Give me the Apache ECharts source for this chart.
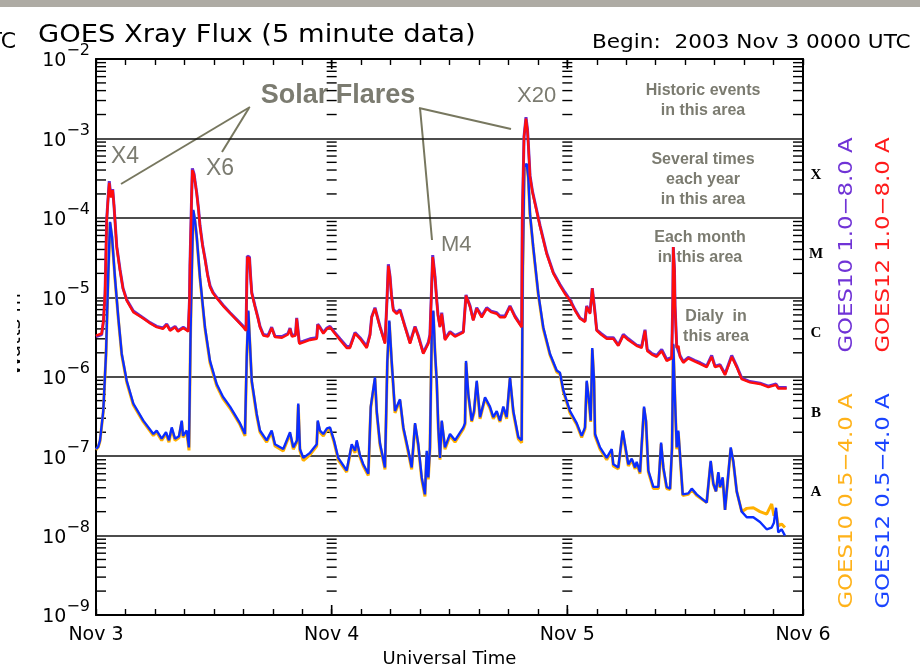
<!DOCTYPE html>
<html><head><meta charset="utf-8">
<script src="https://cdn.jsdelivr.net/npm/echarts@6.0.0/dist/echarts.min.js"></script>
<style>html,body{margin:0;padding:0;background:#fff}#c{width:920px;height:670px}</style>
</head><body><div id="c"></div>
<script>
// ---- data (hours since 2003 Nov 3 00:00 UTC, flux W/m^2) ----
const g12LongHours = [0.00,0.58,0.76,0.92,1.09,1.22,1.35,1.52,1.70,1.83,2.11,2.44,2.75,3.13,3.80,4.82,5.50,6.18,6.82,7.20,7.54,8.05,8.35,8.89,9.40,9.52,9.57,9.73,9.81,9.98,10.26,10.44,10.59,10.85,11.10,11.36,11.61,11.92,12.29,12.93,13.65,14.36,15.00,15.28,15.36,15.41,15.63,15.73,15.86,16.19,16.50,16.70,17.04,17.52,17.89,18.23,18.94,19.55,19.76,19.96,20.32,20.44,20.57,20.70,21.11,21.79,22.48,22.58,22.81,23.15,23.52,23.83,24.24,24.85,25.53,25.87,26.38,26.89,27.57,27.90,28.08,28.41,28.62,28.92,29.43,29.63,29.77,29.94,30.09,30.28,30.62,30.96,31.47,31.98,32.49,32.82,33.33,33.84,34.01,34.17,34.29,34.52,34.70,34.83,35.03,35.21,35.54,36.05,36.56,37.41,37.68,38.09,38.42,38.77,39.28,39.79,40.23,40.81,41.14,41.65,42.16,42.67,43.35,43.41,43.59,43.79,43.94,44.02,44.20,44.45,44.71,45.22,45.90,46.57,47.25,47.76,48.27,48.78,49.29,49.80,49.97,50.31,50.54,50.82,50.99,51.43,52.01,52.68,53.19,53.70,54.21,55.06,55.57,55.81,55.91,56.14,56.62,57.10,57.61,58.12,58.63,58.74,58.79,58.91,58.97,59.14,59.32,59.47,59.81,60.32,61.01,61.52,62.19,62.70,63.04,63.55,64.06,64.74,65.25,65.76,66.60,67.62,68.47,69.25,69.48,70.34];
const g12LongFlux = [3.3e-6,3.5e-6,5.1e-6,1.12e-5,9.3e-5,1.66e-4,2.75e-4,1.8e-4,2.24e-4,1.45e-4,4.3e-5,2.2e-5,1.29e-5,9.1e-6,6.5e-6,5.4e-6,4.7e-6,4.2e-6,4.0e-6,4.5e-6,3.8e-6,4.2e-6,3.7e-6,4.1e-6,3.7e-6,9.1e-6,2.5e-5,1.66e-4,4.0e-4,3.5e-4,2.0e-4,1.26e-4,7.8e-5,4.5e-5,3.0e-5,1.9e-5,1.35e-5,1.12e-5,9.8e-6,7.8e-6,6.3e-6,5.1e-6,4.2e-6,3.8e-6,1.6e-5,3.2e-5,3.1e-5,1.9e-5,1.12e-5,7.6e-6,5.4e-6,4.2e-6,3.3e-6,3.2e-6,4.1e-6,3.16e-6,3.1e-6,3.4e-6,4.0e-6,3.2e-6,3.3e-6,5.4e-6,3.8e-6,2.6e-6,2.7e-6,2.9e-6,3.0e-6,4.5e-6,4.1e-6,3.5e-6,4.0e-6,4.2e-6,3.6e-6,2.9e-6,2.3e-6,2.3e-6,3.5e-6,3.0e-6,2.3e-6,3.3e-6,5.6e-6,7.2e-6,5.8e-6,4.2e-6,2.6e-6,9.1e-6,2.5e-5,1.8e-5,1.05e-5,6.8e-6,6.2e-6,6.8e-6,4.2e-6,2.6e-6,4.2e-6,3.2e-6,1.95e-6,2.6e-6,3.3e-6,1.23e-5,3.2e-5,1.8e-5,9.1e-6,5.9e-6,4.2e-6,6.2e-6,2.9e-6,3.6e-6,3.2e-6,3.6e-6,1.05e-5,7.6e-6,5.1e-6,7.2e-6,5.6e-6,7.2e-6,6.5e-6,6.2e-6,5.6e-6,5.6e-6,7.6e-6,5.6e-6,4.2e-6,9.3e-5,1.05e-3,1.78e-3,1.26e-3,8.7e-4,3.3e-4,2.1e-4,1.5e-4,7.8e-5,3.5e-5,2.0e-5,1.4e-5,1.1e-5,9.1e-6,6.8e-6,5.4e-6,4.9e-6,7.6e-6,6.2e-6,1.29e-5,6.2e-6,3.8e-6,3.4e-6,3.0e-6,3.0e-6,2.45e-6,3.3e-6,2.9e-6,2.45e-6,2.3e-6,3.3e-6,3.8e-6,2.1e-6,1.9e-6,1.78e-6,2.1e-6,1.58e-6,1.7e-6,9.1e-6,4.3e-5,2.2e-5,7.6e-6,2.3e-6,2.45e-6,1.78e-6,1.5e-6,1.7e-6,1.55e-6,1.45e-6,1.32e-6,1.78e-6,1.32e-6,1.38e-6,1.05e-6,1.78e-6,1.32e-6,9.3e-7,8.5e-7,8.1e-7,7.4e-7,7.9e-7,7.1e-7,7.1e-7];
const g10LongFlux = [3.2e-6,3.4e-6,5.0e-6,1.1e-5,9.5e-5,1.7e-4,2.9e-4,1.85e-4,2.3e-4,1.45e-4,4.4e-5,2.25e-5,1.3e-5,9.3e-6,6.7e-6,5.5e-6,4.8e-6,4.3e-6,4.1e-6,4.6e-6,3.9e-6,4.3e-6,3.8e-6,4.2e-6,3.8e-6,9.0e-6,2.5e-5,1.7e-4,4.2e-4,3.6e-4,2.05e-4,1.3e-4,8.0e-5,4.6e-5,3.1e-5,1.95e-5,1.4e-5,1.15e-5,1.0e-5,8.0e-6,6.4e-6,5.2e-6,4.3e-6,3.9e-6,1.6e-5,3.3e-5,3.2e-5,1.95e-5,1.15e-5,7.8e-6,5.5e-6,4.3e-6,3.4e-6,3.3e-6,4.2e-6,3.2e-6,3.2e-6,3.5e-6,4.1e-6,3.3e-6,3.4e-6,5.5e-6,3.9e-6,2.7e-6,2.8e-6,3.0e-6,3.1e-6,4.6e-6,4.2e-6,3.6e-6,4.1e-6,4.3e-6,3.7e-6,3.0e-6,2.4e-6,2.4e-6,3.6e-6,3.1e-6,2.4e-6,3.4e-6,5.7e-6,7.4e-6,5.9e-6,4.3e-6,2.7e-6,9.0e-6,2.6e-5,1.85e-5,1.07e-5,7.0e-6,6.4e-6,7.0e-6,4.3e-6,2.7e-6,4.3e-6,3.3e-6,2.0e-6,2.7e-6,3.4e-6,1.25e-5,3.4e-5,1.85e-5,9.3e-6,6.0e-6,4.3e-6,6.4e-6,3.0e-6,3.7e-6,3.3e-6,3.7e-6,1.07e-5,7.8e-6,5.2e-6,7.4e-6,5.8e-6,7.4e-6,6.7e-6,6.4e-6,5.8e-6,5.8e-6,7.8e-6,5.8e-6,4.3e-6,9.0e-5,1.05e-3,1.85e-3,1.3e-3,9.0e-4,3.4e-4,2.15e-4,1.55e-4,8.0e-5,3.6e-5,2.05e-5,1.45e-5,1.15e-5,9.3e-6,7.0e-6,5.5e-6,5.0e-6,7.8e-6,6.4e-6,1.3e-5,6.4e-6,3.9e-6,3.5e-6,3.1e-6,3.1e-6,2.5e-6,3.4e-6,3.0e-6,2.5e-6,2.4e-6,3.4e-6,3.9e-6,2.2e-6,1.95e-6,1.85e-6,2.2e-6,1.65e-6,1.75e-6,9.0e-6,4.3e-5,2.2e-5,7.8e-6,2.4e-6,2.5e-6,1.85e-6,1.55e-6,1.75e-6,1.6e-6,1.5e-6,1.36e-6,1.85e-6,1.36e-6,1.42e-6,1.08e-6,1.85e-6,1.36e-6,9.6e-7,8.7e-7,8.3e-7,7.6e-7,8.1e-7,7.3e-7,7.3e-7];

const g12ShortHours = [0.00,0.23,0.41,0.74,1.02,1.25,1.43,1.63,1.93,2.27,2.62,3.13,3.80,4.82,5.84,6.18,6.69,7.13,7.43,7.71,8.05,8.45,8.73,8.86,9.06,9.24,9.47,9.64,9.78,9.91,10.08,10.26,10.59,11.10,11.61,12.29,12.93,13.65,14.66,15.17,15.35,15.51,15.68,15.86,16.37,16.70,17.38,17.89,18.23,19.07,19.76,20.09,20.47,20.60,20.77,21.11,21.79,22.48,22.58,22.81,23.15,23.52,23.83,24.24,24.67,25.53,26.04,26.38,26.55,26.89,27.22,27.73,27.98,28.18,28.41,28.59,28.92,29.43,29.67,29.87,30.11,30.45,30.70,30.96,31.30,31.81,32.15,32.49,32.82,33.17,33.50,33.68,33.84,34.01,34.19,34.35,34.52,34.70,34.86,35.03,35.21,35.54,36.05,36.56,37.41,37.58,37.68,37.92,38.26,38.50,38.77,39.11,39.62,40.12,40.46,40.81,41.14,41.48,41.82,42.16,42.50,43.01,43.35,43.45,43.62,43.86,44.02,44.20,44.53,45.04,45.55,46.23,46.92,47.25,47.59,48.27,48.95,49.46,49.80,49.97,50.24,50.38,50.54,50.72,50.82,51.33,52.01,52.52,52.68,53.19,53.64,53.87,54.21,54.56,54.90,55.06,55.40,55.81,56.01,56.25,56.76,57.27,57.55,57.78,58.12,58.46,58.66,58.79,58.97,59.14,59.30,59.47,59.75,60.32,60.67,61.17,62.19,62.60,62.87,63.14,63.38,63.55,63.82,64.06,64.64,64.90,65.25,65.76,66.27,66.94,67.62,68.30,68.81,69.04,69.25,69.48,69.82,70.16];
const g12ShortFlux = [1.23e-7,1.32e-7,1.58e-7,3.7e-7,1.95e-6,2.0e-5,8.9e-5,5.8e-5,1.78e-5,5.6e-6,1.95e-6,8.9e-7,4.6e-7,2.8e-7,1.9e-7,2.1e-7,1.66e-7,2.0e-7,1.58e-7,2.3e-7,1.66e-7,1.78e-7,2.8e-7,1.8e-7,1.74e-7,2.1e-7,1.29e-7,4.2e-6,3.0e-5,1.26e-4,9.3e-5,5.8e-5,1.78e-5,4.2e-6,1.58e-6,8.1e-7,5.6e-7,4.2e-7,2.6e-7,1.9e-7,1.78e-6,6.8e-6,2.6e-6,8.9e-7,3.4e-7,2.1e-7,1.58e-7,2.1e-7,1.41e-7,1.23e-7,2.0e-7,1.29e-7,1.58e-7,4.6e-7,1.23e-7,9.5e-8,1.1e-7,1.41e-7,2.8e-7,2.1e-7,1.9e-7,2.24e-7,2.3e-7,1.58e-7,9.5e-8,6.6e-8,1.41e-7,1.17e-7,1.58e-7,1.02e-7,7.9e-8,6.0e-8,4.2e-7,4.2e-7,9.8e-7,3.7e-7,1.45e-7,7.2e-8,1.58e-6,5.1e-6,1.58e-6,3.7e-7,4.4e-7,5.2e-7,2.3e-7,1.17e-7,7.2e-8,2.6e-7,1.41e-7,5.4e-8,3.3e-8,1.17e-7,5.4e-8,1.29e-7,3.5e-6,6.8e-6,2.1e-6,8.9e-7,2.3e-7,9.5e-8,2.8e-7,1.29e-7,1.9e-7,1.58e-7,2.3e-7,2.6e-7,1.58e-6,6.0e-7,2.8e-7,3.7e-7,8.9e-7,3.1e-7,5.5e-7,4.2e-7,3.1e-7,3.7e-7,2.8e-7,4.2e-7,3.1e-7,9.8e-7,3.7e-7,1.74e-7,1.58e-7,1.78e-5,4.4e-4,4.8e-4,3.3e-4,1.12e-4,4.3e-5,1.12e-5,4.2e-6,1.95e-6,1.2e-6,1.12e-6,6.8e-7,3.7e-7,2.6e-7,1.8e-7,2.3e-7,8.9e-7,4.6e-7,2.8e-7,2.3e-6,8.9e-7,1.9e-7,1.29e-7,9.5e-8,1.23e-7,7.9e-8,7.2e-8,2.1e-7,1.41e-7,7.9e-8,9.3e-8,7.2e-8,8.5e-8,6.3e-8,4.2e-7,2.8e-7,6.6e-8,4.1e-8,4.1e-8,1.48e-7,7.2e-8,4.1e-8,3.9e-8,1.29e-7,2.6e-6,5.0e-7,1.29e-7,2.1e-7,1.07e-7,3.3e-8,3.4e-8,3.9e-8,3.3e-8,2.6e-8,8.7e-8,4.5e-8,3.6e-8,6.3e-8,4.1e-8,5.4e-8,2.1e-8,1.29e-7,8.7e-8,3.6e-8,2.0e-8,1.7e-8,1.7e-8,1.48e-8,1.2e-8,1.26e-8,1.45e-8,2.24e-8,1.1e-8,1.2e-8,1.0e-8];
const g10ShortFlux = [1.2e-7,1.3e-7,1.55e-7,3.6e-7,1.9e-6,1.95e-5,8.7e-5,5.6e-5,1.72e-5,5.4e-6,1.88e-6,8.5e-7,4.4e-7,2.7e-7,1.82e-7,2.0e-7,1.58e-7,1.92e-7,1.5e-7,2.2e-7,1.58e-7,1.7e-7,2.7e-7,1.72e-7,1.66e-7,2.0e-7,1.18e-7,4.0e-6,2.9e-5,1.22e-4,9.0e-5,5.6e-5,1.72e-5,4.0e-6,1.5e-6,7.7e-7,5.3e-7,4.0e-7,2.5e-7,1.8e-7,1.7e-6,6.6e-6,2.5e-6,8.5e-7,3.2e-7,2.0e-7,1.5e-7,2.0e-7,1.34e-7,1.16e-7,1.9e-7,1.22e-7,1.5e-7,4.4e-7,1.16e-7,8.8e-8,1.04e-7,1.34e-7,2.7e-7,2.0e-7,1.8e-7,2.14e-7,2.2e-7,1.5e-7,9.0e-8,6.3e-8,1.34e-7,1.1e-7,1.5e-7,9.7e-8,7.5e-8,5.7e-8,4.0e-7,4.0e-7,9.4e-7,3.5e-7,1.38e-7,6.8e-8,1.5e-6,4.9e-6,1.5e-6,3.5e-7,4.2e-7,5.0e-7,2.2e-7,1.1e-7,6.8e-8,2.5e-7,1.34e-7,5.1e-8,3.1e-8,1.1e-7,5.1e-8,1.22e-7,3.4e-6,6.6e-6,2.0e-6,8.5e-7,2.2e-7,9.0e-8,2.7e-7,1.22e-7,1.8e-7,1.5e-7,2.2e-7,2.5e-7,1.5e-6,5.7e-7,2.7e-7,3.5e-7,8.5e-7,2.95e-7,5.3e-7,4.0e-7,2.95e-7,3.5e-7,2.7e-7,4.0e-7,2.95e-7,9.4e-7,3.5e-7,1.64e-7,1.48e-7,1.7e-5,4.3e-4,4.7e-4,3.2e-4,1.08e-4,4.1e-5,1.08e-5,4.0e-6,1.88e-6,1.15e-6,1.08e-6,6.5e-7,3.5e-7,2.5e-7,1.72e-7,2.2e-7,8.5e-7,4.4e-7,2.7e-7,2.2e-6,8.5e-7,1.8e-7,1.22e-7,9.0e-8,1.16e-7,7.5e-8,6.9e-8,2.0e-7,1.34e-7,7.5e-8,8.9e-8,6.9e-8,8.1e-8,6.0e-8,4.0e-7,2.7e-7,6.3e-8,3.9e-8,3.9e-8,1.42e-7,6.9e-8,3.9e-8,3.8e-8,1.22e-7,2.5e-6,4.8e-7,1.22e-7,2.0e-7,1.02e-7,3.2e-8,3.3e-8,3.8e-8,3.2e-8,2.6e-8,8.4e-8,4.4e-8,3.6e-8,6.1e-8,4.0e-8,5.2e-8,2.1e-8,1.24e-7,8.4e-8,3.6e-8,2.0e-8,2.2e-8,2.24e-8,2.0e-8,1.86e-8,2.5e-8,1.78e-8,2.0e-8,1.32e-8,1.4e-8,1.26e-8];

const dayLabels = ['Nov 3', 'Nov 4', 'Nov 5', 'Nov 6'];
const classLetters = ['A', 'B', 'C', 'M', 'X'];
const classLevels = [3.5e-8, 3.5e-7, 3.5e-6, 3.5e-5, 3.5e-4];
const legendTexts = ['GOES10 1.0\u22128.0 A', 'GOES12 1.0\u22128.0 A', 'GOES10 0.5\u22124.0 A', 'GOES12 0.5\u22124.0 A'];

// ---- helpers ----
function zip(h, v) { const n = Math.min(h.length, v.length); const o = []; for (let i = 0; i < n; i++) o.push([h[i], v[i]]); return o; }
const minorTicks = [];
for (let e = -9; e < -2; e++) for (let m = 2; m <= 9; m++) minorTicks.push([0, m * Math.pow(10, e)]);

const BLACK = '#000';
const ANN = '#7b7b70';
const ANNLINE = '#77775f';
const FONT = '"DejaVu Sans", sans-serif';

function renderMinor(params, api) {
  const v = api.value(1);
  const pL = api.coord([0, v]), pR = api.coord([72, v]);
  const p1 = api.coord([24, v]), p2 = api.coord([48, v]);
  const st = { stroke: BLACK, lineWidth: 1.4 };
  return { type: 'group', children: [
    { type: 'line', shape: { x1: pL[0], y1: pL[1], x2: pL[0] + 10, y2: pL[1] }, style: st },
    { type: 'line', shape: { x1: pR[0] - 10, y1: pR[1], x2: pR[0], y2: pR[1] }, style: st },
    { type: 'line', shape: { x1: p1[0] - 5, y1: p1[1], x2: p1[0] + 5, y2: p1[1] }, style: st },
    { type: 'line', shape: { x1: p2[0] - 5, y1: p2[1], x2: p2[0] + 5, y2: p2[1] }, style: st }
  ]};
}
function renderDayTicks(params, api) {
  const h = api.value(0);
  const pT = api.coord([h, 1e-2]), pB = api.coord([h, 1e-9]);
  const st = { stroke: BLACK, lineWidth: 1.6 };
  return { type: 'group', children: [
    { type: 'line', shape: { x1: pT[0], y1: pT[1], x2: pT[0], y2: pT[1] + 10 }, style: st },
    { type: 'line', shape: { x1: pB[0], y1: pB[1], x2: pB[0], y2: pB[1] - 10 }, style: st }
  ]};
}
function renderLetters(params, api) {
  const p = api.coord([72, api.value(1)]);
  return { type: 'text', x: p[0] + 13, y: p[1], style: { text: classLetters[params.dataIndex], font: 'bold 15px "Liberation Serif", serif', fill: BLACK, align: 'center', verticalAlign: 'middle' } };
}

const chart = echarts.init(document.getElementById('c'));
const xCommon = {
  type: 'value', min: 0, max: 72, interval: 3,
  axisLine: { onZero: false, lineStyle: { color: BLACK, width: 2 } },
  axisTick: { inside: true, length: 6, lineStyle: { color: BLACK, width: 1.4 } },
  splitLine: { show: false }
};
const yCommon = {
  type: 'log', logBase: 10, min: 1e-9, max: 1e-2, splitNumber: 7,
  axisLine: { onZero: false, lineStyle: { color: BLACK, width: 2 } },
  axisTick: { show: false }
};

chart.setOption({
  animation: false,
  backgroundColor: '#fff',
  textStyle: { fontFamily: FONT },
  grid: { left: 96, right: 117, top: 59, bottom: 55, containLabel: false, outerBoundsMode: 'none' },
  xAxis: [
    Object.assign({}, xCommon, {
      position: 'bottom',
      name: 'Universal Time', nameLocation: 'middle', nameGap: 33,
      nameTextStyle: { fontSize: 18, color: BLACK, fontFamily: FONT },
      axisLabel: { margin: 11, fontSize: 19, color: BLACK, fontFamily: FONT, showMinLabel: true, showMaxLabel: true,
        formatter: v => (v % 24 === 0 ? dayLabels[v / 24] : '') }
    }),
    Object.assign({}, xCommon, { position: 'top', axisLabel: { show: false } })
  ],
  yAxis: [
    Object.assign({}, yCommon, {
      position: 'left',
      splitLine: { show: true, lineStyle: { color: '#111', width: 1.5 } },
      axisLabel: {
        margin: 6,
        formatter: v => { const e = Math.round(Math.log10(v)); return '{b|10}{s|\u2212' + (-e) + '}'; },
        rich: {
          b: { fontSize: 19, fontFamily: FONT, color: BLACK, verticalAlign: 'bottom', padding: [0, 0, 4, 0] },
          s: { fontSize: 16, fontFamily: FONT, color: BLACK, verticalAlign: 'top', padding: [0, 0, 16, 0] }
        }
      }
    }),
    Object.assign({}, yCommon, { position: 'right', axisLabel: { show: false }, splitLine: { show: false } })
  ],
  series: [
    { type: 'custom', name: 'minorTicks', data: minorTicks, renderItem: renderMinor, clip: false, silent: true, z: 1 },
    { type: 'custom', name: 'dayTicks', data: [[24, 1e-5], [48, 1e-5]], renderItem: renderDayTicks, clip: false, silent: true, z: 1 },
    { type: 'custom', name: 'classes', data: classLevels.map(v => [72, v]), renderItem: renderLetters, clip: false, silent: true, z: 1 },
    { type: 'line', name: legendTexts[2], data: zip(g12ShortHours, g10ShortFlux), showSymbol: false, symbol: 'none', lineStyle: { color: '#ffb000', width: 3 }, z: 2 },
    { type: 'line', name: legendTexts[3], data: zip(g12ShortHours, g12ShortFlux), showSymbol: false, symbol: 'none', lineStyle: { color: '#0b2dff', width: 2.4 }, z: 3 },
    { type: 'line', name: legendTexts[0], data: zip(g12LongHours, g10LongFlux), showSymbol: false, symbol: 'none', lineStyle: { color: '#6a2bd0', width: 3 }, z: 4 },
    { type: 'line', name: legendTexts[1], data: zip(g12LongHours, g12LongFlux), showSymbol: false, symbol: 'none', lineStyle: { color: '#ff0d0d', width: 2.4 }, z: 5 }
  ],
  graphic: [
    { type: 'rect', shape: { x: 0, y: 0, width: 920, height: 7 }, style: { fill: '#aeaba4' } },
    { type: 'text', x: 16, y: 42, style: { text: 'UTC', font: '22px ' + FONT, fill: BLACK, align: 'right', verticalAlign: 'middle' } },
    { type: 'text', x: 38, y: 36, scaleX: 1.14, style: { text: 'GOES Xray Flux (5 minute data)', font: '24px ' + FONT, fill: BLACK, align: 'left', verticalAlign: 'middle' } },
    { type: 'text', x: 592, y: 43, scaleX: 1.08, style: { text: 'Begin:  2003 Nov 3 0000 UTC', font: '20px ' + FONT, fill: BLACK, align: 'left', verticalAlign: 'middle' } },
    { type: 'text', x: 25, y: 325, rotation: Math.PI / 2, style: { text: 'Watts m\u207B\u00B2', font: '20px ' + FONT, fill: BLACK, align: 'center', verticalAlign: 'bottom' } },
    { type: 'rect', shape: { x: 0, y: 250, width: 17, height: 160 }, style: { fill: '#fff' } },
    { type: 'text', x: 846.5, y: 245, rotation: Math.PI / 2, scaleX: 1.14, style: { text: legendTexts[0], font: '20px ' + FONT, fill: '#7033d6', align: 'center', verticalAlign: 'middle' } },
    { type: 'text', x: 883.5, y: 245, rotation: Math.PI / 2, scaleX: 1.14, style: { text: legendTexts[1], font: '20px ' + FONT, fill: '#ff1a1a', align: 'center', verticalAlign: 'middle' } },
    { type: 'text', x: 846.5, y: 501, rotation: Math.PI / 2, scaleX: 1.14, style: { text: legendTexts[2], font: '20px ' + FONT, fill: '#ffb21a', align: 'center', verticalAlign: 'middle' } },
    { type: 'text', x: 883.5, y: 501, rotation: Math.PI / 2, scaleX: 1.14, style: { text: legendTexts[3], font: '20px ' + FONT, fill: '#1a44ff', align: 'center', verticalAlign: 'middle' } },
    // annotations
    { type: 'text', x: 338, y: 96, style: { text: 'Solar Flares', font: 'bold 27px "Liberation Sans", Arial, sans-serif', fill: ANN, align: 'center', verticalAlign: 'middle' } },
    { type: 'polyline', shape: { points: [[250, 107], [121, 184]] }, style: { stroke: ANNLINE, lineWidth: 2 } },
    { type: 'polyline', shape: { points: [[249, 108], [222, 152]] }, style: { stroke: ANNLINE, lineWidth: 2 } },
    { type: 'polyline', shape: { points: [[419, 108], [511, 129]] }, style: { stroke: ANNLINE, lineWidth: 2 } },
    { type: 'polyline', shape: { points: [[420, 108], [423, 140], [432, 240]] }, style: { stroke: ANNLINE, lineWidth: 2 } },
    { type: 'text', x: 111, y: 157, style: { text: 'X4', font: '23px "Liberation Sans", Arial, sans-serif', fill: ANN, align: 'left', verticalAlign: 'middle' } },
    { type: 'text', x: 206, y: 169, style: { text: 'X6', font: '23px "Liberation Sans", Arial, sans-serif', fill: ANN, align: 'left', verticalAlign: 'middle' } },
    { type: 'text', x: 441, y: 245, style: { text: 'M4', font: '22px "Liberation Sans", Arial, sans-serif', fill: ANN, align: 'left', verticalAlign: 'middle' } },
    { type: 'text', x: 517, y: 96, style: { text: 'X20', font: '22px "Liberation Sans", Arial, sans-serif', fill: ANN, align: 'left', verticalAlign: 'middle' } },
    { type: 'text', x: 703, y: 91, style: { text: 'Historic events', font: 'bold 16px "Liberation Sans", Arial, sans-serif', fill: ANN, align: 'center', verticalAlign: 'middle' } },
    { type: 'text', x: 703, y: 111, style: { text: 'in this area', font: 'bold 16px "Liberation Sans", Arial, sans-serif', fill: ANN, align: 'center', verticalAlign: 'middle' } },
    { type: 'text', x: 703, y: 160, style: { text: 'Several times', font: 'bold 16px "Liberation Sans", Arial, sans-serif', fill: ANN, align: 'center', verticalAlign: 'middle' } },
    { type: 'text', x: 703, y: 180, style: { text: 'each year', font: 'bold 16px "Liberation Sans", Arial, sans-serif', fill: ANN, align: 'center', verticalAlign: 'middle' } },
    { type: 'text', x: 703, y: 200, style: { text: 'in this area', font: 'bold 16px "Liberation Sans", Arial, sans-serif', fill: ANN, align: 'center', verticalAlign: 'middle' } },
    { type: 'text', x: 700, y: 238, style: { text: 'Each month', font: 'bold 16px "Liberation Sans", Arial, sans-serif', fill: ANN, align: 'center', verticalAlign: 'middle' } },
    { type: 'text', x: 700, y: 258, style: { text: 'in this area', font: 'bold 16px "Liberation Sans", Arial, sans-serif', fill: ANN, align: 'center', verticalAlign: 'middle' } },
    { type: 'text', x: 716, y: 317, style: { text: 'Dialy  in', font: 'bold 16px "Liberation Sans", Arial, sans-serif', fill: ANN, align: 'center', verticalAlign: 'middle' } },
    { type: 'text', x: 716, y: 337, style: { text: 'this area', font: 'bold 16px "Liberation Sans", Arial, sans-serif', fill: ANN, align: 'center', verticalAlign: 'middle' } }
  ]
});
</script></body></html>
